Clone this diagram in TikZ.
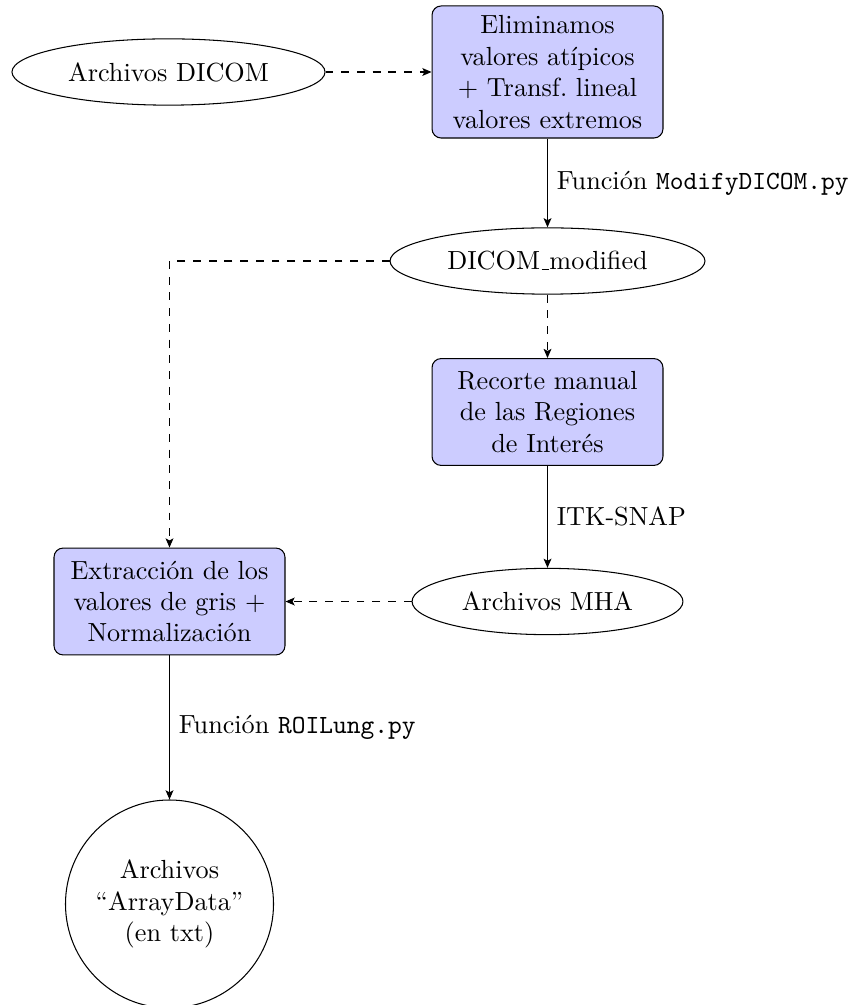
\documentclass[tikz,border=0pt]{standalone}
\usetikzlibrary{shapes.geometric,arrows.meta}
\begin{document}
\begin{tikzpicture}[x=0.3817pt,y=-0.3817pt,
  blockbox/.style={rectangle, draw, fill=blue!20, rounded corners=3.5pt, text width=81.5pt, align=center, inner sep=3.33pt},
  cloudnode/.style={ellipse, draw, minimum height=25.3pt, inner sep=0pt},
  solidarrow/.style={draw, -{Stealth[length=3.5pt,width=3pt,inset=0.8pt]}},
  dasharrow/.style={draw, dashed, -{Stealth[length=3.5pt,width=3pt,inset=0.8pt]}}]
\useasboundingbox (0,0) rectangle (857,1005);
\node[cloudnode, minimum width=119.5pt] (dicom) at (168.5,72) {Archivos DICOM};
\node[blockbox, minimum height=50.4pt] (elim) at (547.5,72) {Eliminamos\\valores atípicos\\+ Transf.\ lineal\\valores extremos};
\node[cloudnode, minimum width=120.2pt] (mod) at (547.5,261) {DICOM\leavevmode\kern.06em\vbox{\hrule width.3em}modified};
\node[blockbox, minimum height=40.8pt] (recorte) at (547.5,412) {Recorte manual\\de las Regiones\\de Interés};
\node[cloudnode, minimum width=103.4pt] (mha) at (547.5,601.5) {Archivos MHA};
\node[blockbox, minimum height=40.8pt] (extr) at (169.5,601.5) {Extracción de los\\valores de gris +\\Normalización};
\node[circle, draw, minimum size=79.4pt, align=center, inner sep=0pt] (arr) at (169.5,904) {Archivos\\``ArrayData''\\(en txt)};

\path[dasharrow] (dicom) -- (elim);
\path[solidarrow] (elim) -- node[midway, right] {Función \texttt{ModifyDICOM.py}} (mod);
\path[dasharrow] (mod) -- (recorte);
\path[dasharrow] (mod.west) -| (extr.north);
\path[solidarrow] (recorte) -- node[midway, right] {ITK-SNAP} (mha);
\path[dasharrow] (mha) -- (extr);
\path[solidarrow] (extr) -- node[midway, right] {Función \texttt{ROILung.py}} (arr);
\end{tikzpicture}
\end{document}
